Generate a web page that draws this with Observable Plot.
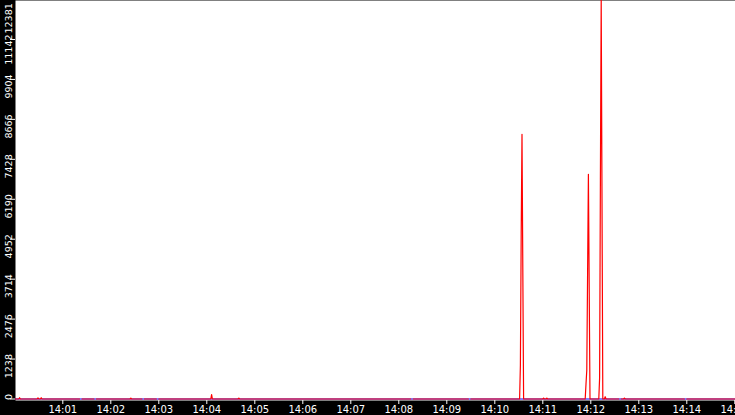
<!DOCTYPE html>
<html>
<head>
<meta charset="utf-8">
<script src="https://cdn.jsdelivr.net/npm/d3@7"></script>
<script src="https://cdn.jsdelivr.net/npm/@observablehq/plot@0.6"></script>
<style>
  html, body { margin: 0; padding: 0; background: black; overflow: hidden; }
</style>
</head>
<body>
<div id="chart"></div>
<script>
// Red series (time, value); null = gap in the red trace
const redTimes = [
  "14:00:00","14:00:05","14:00:06","14:00:07","14:00:28","14:00:29","14:00:30","14:00:32","14:00:33","14:00:34",
  "14:01:21","14:01:22","14:01:24","14:01:39","14:01:40","14:01:42",
  "14:02:24","14:02:25","14:02:26","14:02:39","14:02:40","14:02:42","14:02:57","14:02:58","14:03:00",
  "14:04:05","14:04:06","14:04:07","14:04:39","14:04:40","14:04:41",
  "14:08:15","14:08:16","14:08:18","14:09:27","14:09:28","14:09:30",
  "14:10:31","14:10:32","14:10:33","14:10:34","14:10:35","14:10:36",
  "14:11:00","14:11:01","14:11:02","14:11:04","14:11:05","14:11:06",
  "14:11:53","14:11:54","14:11:55","14:11:56","14:11:57","14:11:58","14:11:59",
  "14:12:10","14:12:11","14:12:12","14:12:13","14:12:14","14:12:15",
  "14:12:17","14:12:18","14:12:19","14:12:35","14:12:36","14:12:38",
  "14:12:41","14:12:42","14:12:43","14:13:57","14:13:58","14:14:00",
  "14:15:00"
];
const redValues = [
  0,0,40,0,0,35,0,0,40,0,
  0,null,0,0,null,0,
  0,30,0,0,null,0,0,null,0,
  0,140,0,0,30,0,
  0,null,0,0,null,0,
  0,1052,5138,8202,4085,0,
  0,30,0,0,30,0,
  0,464,898,3930,6964,3466,0,
  0,650,6809,12381,6221,0,
  0,70,0,0,null,0,
  0,30,0,0,null,0,
  0
];
// Blue series (mostly hidden under the red one)
const blueTimes = ["14:00:00","14:15:00"];
const blueValues = [0, 0];

// Axis ticks
const yTickValues = [0,1238,2476,3714,4952,6190,7428,8666,9904,11142,12381];
const yTickLabels = ["0","1238","2476","3714","4952","6190","7428","8666","9904","11142","12381"];
const xTickLabels = ["14:01","14:02","14:03","14:04","14:05","14:06","14:07","14:08","14:09","14:10","14:11","14:12","14:13","14:14","14:15"];
const xDomain = ["14:00:00","14:15:00"];

const parse = d3.timeParse("%H:%M:%S");
const parseHM = d3.timeParse("%H:%M");

const red = redTimes.map((t, i) => ({t: parse(t), v: redValues[i]}));
const blue = blueTimes.map((t, i) => ({t: parse(t), v: blueValues[i]}));
const yTicks = yTickValues.map((v, i) => ({v, label: yTickLabels[i]}));

const chart = Plot.plot({
  width: 735,
  height: 415,
  marginLeft: 15,
  marginRight: 0,
  marginTop: 0,
  marginBottom: 15,
  style: {background: "black", fontFamily: "DejaVu Sans", color: "white"},
  x: {type: "time", domain: xDomain.map(parse), range: [14.3, 734.3]},
  y: {domain: [0, 12381], range: [398.5, -1]},
  marks: [
    Plot.frame({fill: "white", stroke: null}),
    Plot.line(blue, {x: "t", y: "v", stroke: "#0000ff", strokeWidth: 1, clip: true}),
    Plot.line(red, {x: "t", y: "v", stroke: "#ff0000", strokeWidth: 1.2, clip: true}),
    Plot.axisY({ticks: yTickValues, tickSize: 5, tickFormat: () => "", color: "white", label: null}),
    Plot.text(yTicks.slice(0, -1), {y: "v", text: "label", frameAnchor: "left", dx: -7, dy: -5,
      rotate: -90, textAnchor: "end", fill: "white", fontSize: 9.5}),
    Plot.text(yTicks.slice(-1), {y: "v", text: "label", frameAnchor: "left", dx: -7, dy: 34,
      rotate: -90, textAnchor: "start", fill: "white", fontSize: 9.5}),
    Plot.axisX({ticks: xTickLabels.map(parseHM), tickSize: 4, tickPadding: 1, tickFormat: d3.timeFormat("%H:%M"),
      color: "white", fontSize: 10, label: null})
  ]
});
document.getElementById("chart").appendChild(chart);
</script>
</body>
</html>
